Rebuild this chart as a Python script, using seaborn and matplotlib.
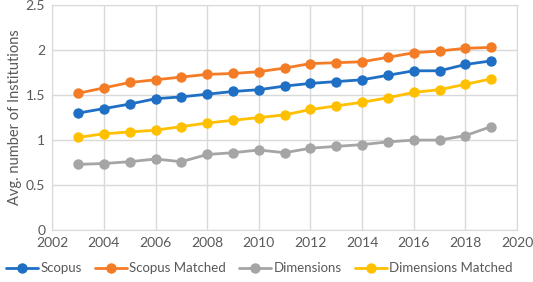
import seaborn as sns
import pandas as pd
import matplotlib.pyplot as plt

years = list(range(2003, 2020))
scopus = [1.30, 1.35, 1.40, 1.46, 1.48, 1.51, 1.54, 1.56, 1.60, 1.63, 1.65, 1.67, 1.72, 1.77, 1.77, 1.84, 1.88]
scopus_matched = [1.52, 1.58, 1.64, 1.67, 1.70, 1.73, 1.74, 1.76, 1.80, 1.85, 1.86, 1.87, 1.92, 1.97, 1.99, 2.02, 2.03]
dimensions = [0.73, 0.74, 0.76, 0.79, 0.76, 0.84, 0.86, 0.89, 0.86, 0.91, 0.93, 0.95, 0.98, 1.00, 1.00, 1.05, 1.15]
dimensions_matched = [1.03, 1.07, 1.09, 1.11, 1.15, 1.19, 1.22, 1.25, 1.28, 1.34, 1.38, 1.42, 1.47, 1.53, 1.56, 1.62, 1.68]

series = ["Scopus", "Scopus Matched", "Dimensions", "Dimensions Matched"]
colores = ["#1f6fc5", "#f57c26", "#a5a5a5", "#ffc000"]

df = pd.DataFrame({"Year": years, "Scopus": scopus, "Scopus Matched": scopus_matched,
                   "Dimensions": dimensions, "Dimensions Matched": dimensions_matched})
df = df.melt(id_vars="Year", var_name="Source", value_name="Value")

sns.set_style("white")
plt.rcParams["font.family"] = ["Lato", "DejaVu Sans"]
texto = "#595959"

fig = plt.figure(figsize=(5.33, 2.82), dpi=100)
ax = fig.add_axes([0.098, 0.184, 0.872, 0.798])

sns.lineplot(data=df, x="Year", y="Value", hue="Source", hue_order=series,
             palette=colores, marker="o", markersize=7.5, markeredgewidth=0,
             linewidth=2, ax=ax)

ax.set_xlim(2002, 2020)
ax.set_ylim(0, 2.5)
ax.set_xticks(range(2002, 2021, 2))
ax.set_yticks([0, 0.5, 1, 1.5, 2, 2.5])
ax.set_yticklabels(["0", "0.5", "1", "1.5", "2", "2.5"])
ax.grid(True, color="#d9d9d9", linewidth=1)
ax.set_axisbelow(True)
for s in ["top", "right", "left", "bottom"]:
    ax.spines[s].set_color("#d9d9d9")
ax.tick_params(axis="both", colors=texto, labelsize=10, length=0, pad=5)
ax.set_xlabel("")
ax.set_ylabel("Avg. number of Institutions", color=texto, fontsize=10.5, labelpad=3)

ax.legend(loc="center", bbox_to_anchor=(0.446, -0.17), ncol=4, frameon=False,
          fontsize=9.5, handlelength=2.4, handletextpad=0.2, columnspacing=1.0,
          labelcolor=texto)

plt.savefig("out.png", dpi=100)
